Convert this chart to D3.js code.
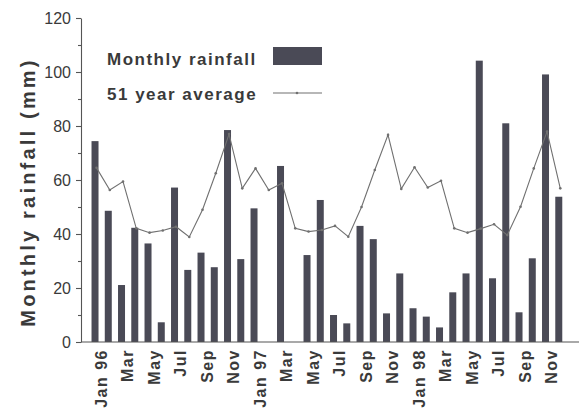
<!DOCTYPE html>
<html>
<head>
<meta charset="utf-8">
<script src="https://cdn.jsdelivr.net/npm/d3@7"></script>
<style>
  html, body { margin: 0; padding: 0; background: #ffffff; }
  svg { display: block; }
  text { font-family: "Liberation Sans", Arial, Helvetica, sans-serif; fill: #3a3a3a; }
</style>
</head>
<body>
<svg id="chart" width="588" height="412"></svg>
<script>
// Monthly rainfall, Jan 1996 - Dec 1998 (mm); null = no record
const months = [
  "Jan 96","Feb 96","Mar 96","Apr 96","May 96","Jun 96","Jul 96","Aug 96","Sep 96","Oct 96","Nov 96","Dec 96",
  "Jan 97","Feb 97","Mar 97","Apr 97","May 97","Jun 97","Jul 97","Aug 97","Sep 97","Oct 97","Nov 97","Dec 97",
  "Jan 98","Feb 98","Mar 98","Apr 98","May 98","Jun 98","Jul 98","Aug 98","Sep 98","Oct 98","Nov 98","Dec 98"
];
const rainfall = [
  74.4, 48.6, 21.1, 42.3, 36.5, 7.3, 57.2, 26.7, 33.1, 27.7, 78.5, 30.7,
  49.5, null, 65.2, null, 32.2, 52.6, 10.0, 6.9, 43.0, 38.1, 10.6, 25.4,
  12.5, 9.4, 5.4, 18.4, 25.4, 104.2, 23.6, 81.0, 11.0, 31.0, 99.1, 53.8
];
// Long-term (51 year) monthly mean for the same months
const average51 = [
  64.5, 56.3, 59.4, 42.1, 40.5, 41.3, 42.7, 38.9, 49.0, 62.5, 77.0, 56.9,
  64.3, 56.3, 58.8, 42.1, 40.9, 41.5, 43.0, 39.0, 50.0, 63.7, 76.7, 56.7,
  64.7, 57.2, 59.7, 42.1, 40.5, 42.0, 43.6, 39.6, 50.1, 64.3, 77.9, 56.9
];
const tickMonths = [
  "Jan 96","Mar 96","May 96","Jul 96","Sep 96","Nov 96",
  "Jan 97","Mar 97","May 97","Jul 97","Sep 97","Nov 97",
  "Jan 98","Mar 98","May 98","Jul 98","Sep 98","Nov 98"
];
const tickLabels = [
  "Jan 96","Mar","May","Jul","Sep","Nov",
  "Jan 97","Mar","May","Jul","Sep","Nov",
  "Jan 98","Mar","May","Jul","Sep","Nov"
];
const yMajor = [0, 20, 40, 60, 80, 100, 120];
const yMinor = [10, 30, 50, 70, 90, 110];
const legendLabels = ["Monthly rainfall", "51 year average"];

const svg = d3.select("#chart");
const barColor = "#4a4a56";
const lineColor = "#707070";
const axisColor = "#555";

const x = d3.scaleBand().domain(months).range([88.4, 565.4]).paddingInner(0).paddingOuter(0);
const y = d3.scaleLinear().domain([0, 120]).range([342, 18]);
const cx = m => x(m) + x.bandwidth() / 2;
const barW = 7;

// bars
svg.append("g")
  .selectAll("rect")
  .data(months.map((m, i) => ({ m, v: rainfall[i] })).filter(d => d.v != null))
  .join("rect")
  .attr("x", d => cx(d.m) - barW / 2)
  .attr("y", d => y(d.v))
  .attr("width", barW)
  .attr("height", d => y(0) - y(d.v))
  .attr("fill", barColor);

// 51 year average line with small markers
const avgData = months.map((m, i) => ({ m, v: average51[i] }));
svg.append("path")
  .datum(avgData)
  .attr("fill", "none")
  .attr("stroke", lineColor)
  .attr("stroke-width", 1.1)
  .attr("d", d3.line().x(d => cx(d.m) + 1.5).y(d => y(d.v)));
svg.append("g")
  .selectAll("circle")
  .data(avgData)
  .join("circle")
  .attr("cx", d => cx(d.m) + 1.5)
  .attr("cy", d => y(d.v))
  .attr("r", 1.3)
  .attr("fill", lineColor);

// y axis with major and minor ticks
const yAxis = svg.append("g").attr("transform", "translate(81,0)");
yAxis.call(d3.axisLeft(y).tickValues(yMajor).tickSize(5).tickSizeOuter(0).tickPadding(5));
yAxis.append("g").call(d3.axisLeft(y).tickValues(yMinor).tickSize(3).tickFormat(""))
  .select(".domain").remove();
yAxis.selectAll("path, line").attr("stroke", axisColor).attr("stroke-width", 1.1);
yAxis.selectAll("text")
  .style("font-size", "16px")
  .style("font-family", "'Liberation Sans', Arial, sans-serif")
  .attr("fill", "#3a3a3a");

// x axis baseline
svg.append("line")
  .attr("x1", 81).attr("x2", 579)
  .attr("y1", y(0)).attr("y2", y(0))
  .attr("stroke", axisColor).attr("stroke-width", 1.1);

// x tick labels, rotated
svg.append("g")
  .selectAll("text")
  .data(tickMonths.map((m, i) => ({ m, label: tickLabels[i] })))
  .join("text")
  .attr("transform", d => `translate(${cx(d.m) + 6},${y(0) + 7}) rotate(-90)`)
  .attr("text-anchor", "end")
  .attr("dy", "0.35em")
  .style("font-size", "16px")
  .style("font-weight", "bold")
  .style("letter-spacing", "1.5px")
  .text(d => d.label);

// y axis title
svg.append("text")
  .attr("transform", "translate(28,192) rotate(-90)")
  .attr("text-anchor", "middle")
  .attr("dy", "0.35em")
  .style("font-size", "20px")
  .style("font-weight", "bold")
  .style("letter-spacing", "3.2px")
  .text("Monthly rainfall (mm)");

// legend
const legend = svg.append("g");
legend.append("text")
  .attr("x", 107).attr("y", 65)
  .style("font-size", "17px").style("font-weight", "bold").style("letter-spacing", "1.5px")
  .text(legendLabels[0]);
legend.append("rect")
  .attr("x", 273).attr("y", 47).attr("width", 49).attr("height", 18)
  .attr("fill", barColor);
legend.append("text")
  .attr("x", 107).attr("y", 100)
  .style("font-size", "17px").style("font-weight", "bold").style("letter-spacing", "1.5px")
  .text(legendLabels[1]);
legend.append("line")
  .attr("x1", 273).attr("x2", 322).attr("y1", 93).attr("y2", 93)
  .attr("stroke", lineColor).attr("stroke-width", 1.1);
legend.append("circle")
  .attr("cx", 297).attr("cy", 93).attr("r", 1.3).attr("fill", lineColor);
</script>
</body>
</html>
